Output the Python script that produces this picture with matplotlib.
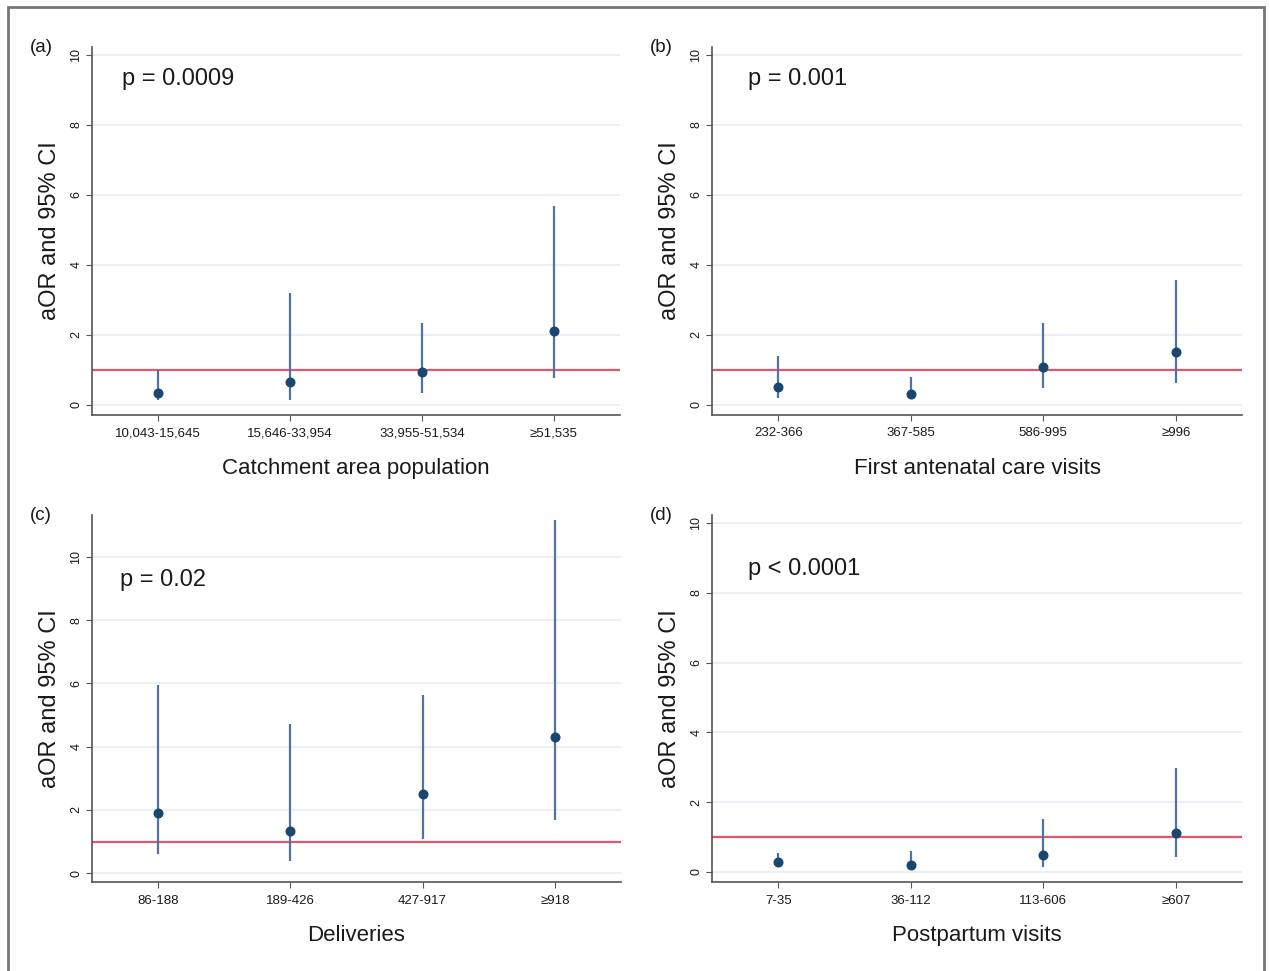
import matplotlib
matplotlib.use("Agg")
import matplotlib.pyplot as plt
from matplotlib.patches import Rectangle

plt.rcParams['font.family'] = ['Liberation Sans', 'DejaVu Sans']

# ---- data ----
labels_a = ["10,043-15,645", "15,646-33,954", "33,955-51,534", "≥51,535"]
aor_a = [0.33, 0.64, 0.93, 2.10]
lo_a = [0.14, 0.14, 0.35, 0.76]
hi_a = [1.00, 3.21, 2.33, 5.69]

labels_b = ["232-366", "367-585", "586-995", "≥996"]
aor_b = [0.52, 0.31, 1.07, 1.50]
lo_b = [0.19, 0.16, 0.48, 0.62]
hi_b = [1.40, 0.81, 2.33, 3.57]

labels_c = ["86-188", "189-426", "427-917", "≥918"]
aor_c = [1.89, 1.32, 2.49, 4.32]
lo_c = [0.59, 0.37, 1.09, 1.67]
hi_c = [5.94, 4.73, 5.64, 11.17]

labels_d = ["7-35", "36-112", "113-606", "≥607"]
aor_d = [0.27, 0.21, 0.48, 1.12]
lo_d = [0.14, 0.10, 0.14, 0.43]
hi_d = [0.55, 0.59, 1.52, 2.97]

panels = [
    ("(a)", "p = 0.0009", "Catchment area population", labels_a, aor_a, lo_a, hi_a),
    ("(b)", "p = 0.001", "First antenatal care visits", labels_b, aor_b, lo_b, hi_b),
    ("(c)", "p = 0.02", "Deliveries", labels_c, aor_c, lo_c, hi_c),
    ("(d)", "p < 0.0001", "Postpartum visits", labels_d, aor_d, lo_d, hi_d),
]

W, H = 1270, 971
fig = plt.figure(figsize=(W / 100, H / 100), dpi=100)

# axes boxes in pixel coords (left, top, right, bottom)
boxes = [
    (92, 47, 620, 415),
    (712, 47, 1242, 415),
    (92, 515, 621, 882),
    (712, 515, 1242, 882),
]
ylims = [(-0.29, 10.23), (-0.29, 10.23), (-0.28, 11.33), (-0.29, 10.23)]
ptext_x = [0.73, 0.77, 0.71, 0.77]
ptext_y = [9.32, 9.32, 9.27, 8.68]

marker_col = "#1a476f"
ci_col = "#4f74a3"
ref_col = "#e0566e"
grid_col = "#e6eef4"
text_col = "#1a1a1a"

for (tag, ptxt, xlab, labs, aor, lo, hi), (l, t, r, b), yl, px, py in zip(
        panels, boxes, ylims, ptext_x, ptext_y):
    ax = fig.add_axes([l / W, 1 - b / H, (r - l) / W, (b - t) / H])
    x = list(range(1, len(labs) + 1))
    ax.set_xlim(0.5, 4.5)
    ax.set_ylim(*yl)
    ax.set_yticks([0, 2, 4, 6, 8, 10])
    for gy in [0, 2, 4, 6, 8, 10]:
        ax.axhline(gy, color=grid_col, lw=1.2, zorder=0)
    ax.axhline(1, color=ref_col, lw=1.6, zorder=1)
    ax.vlines(x, lo, hi, color=ci_col, lw=1.6, zorder=2)
    ax.plot(x, aor, 'o', color=marker_col, ms=6.2, zorder=3)
    ax.set_xticks(x)
    ax.set_xticklabels(labs, fontsize=9.5, color=text_col)
    for lab in ax.get_yticklabels():
        lab.set_rotation(90)
        lab.set_va('center')
        lab.set_color(text_col)
    ax.tick_params(axis='y', labelsize=9, length=4, color='#555555', pad=3)
    ax.tick_params(axis='x', length=4, color='#555555', pad=5)
    for s in ['top', 'right']:
        ax.spines[s].set_visible(False)
    for s in ['left', 'bottom']:
        ax.spines[s].set_color('#555555')
        ax.spines[s].set_linewidth(1.2)
    ax.set_ylabel("aOR and 95% CI", fontsize=17, labelpad=7, color=text_col)
    ax.set_xlabel(xlab, fontsize=16, labelpad=13, color=text_col)
    ax.text(px, py, ptxt, fontsize=17, va='center', ha='left', color=text_col)
    fig.text((l - 62) / W, 1 - (t + 1) / H, tag, fontsize=13.5, ha='left',
             va='center', color=text_col)

# outer frame
fig.patches.append(Rectangle((8 / W, -0.01), (1264 - 8) / W, 1 - 7 / H + 0.01,
                             transform=fig.transFigure, fill=False,
                             edgecolor='#777777', lw=2))

fig.savefig("out.png", dpi=100)
